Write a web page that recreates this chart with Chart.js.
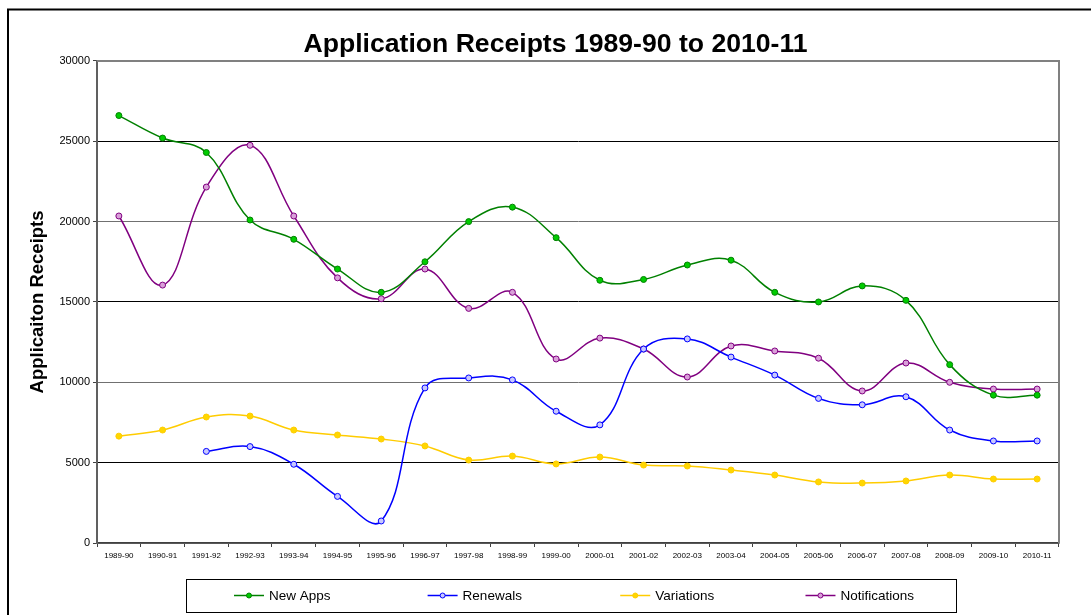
<!DOCTYPE html>
<html>
<head>
<meta charset="utf-8">
<script src="https://cdn.jsdelivr.net/npm/chart.js@4.4.1/dist/chart.umd.min.js"></script>
<style>
  html, body { margin: 0; padding: 0; background: #fff; }
  canvas { display: block; }
</style>
</head>
<body>
<canvas id="receiptsChart" width="1091" height="615"></canvas>
<script>
// Financial years on the x axis
const years = ["1989-90", "1990-91", "1991-92", "1992-93", "1993-94", "1994-95", "1995-96",
    "1996-97", "1997-98", "1998-99", "1999-00", "2000-01", "2001-02", "2002-03", "2003-04",
    "2004-05", "2005-06", "2006-07", "2007-08", "2008-09", "2009-10", "2010-11"];

// Series values
const newApps = [26600, 25200, 24300, 20100, 18900, 17050, 15600, 17500, 20000, 20900, 19000,
    16350, 16400, 17300, 17600, 15600, 15000, 16000, 15100, 11100, 9200, 9200];
const renewals = [null, null, 5700, 6000, 4900, 2900, 1370, 9650, 10270, 10150, 8200,
    7350, 12070, 12700, 11570, 10450, 9000, 8600, 9100, 7030, 6350, 6350];
const variations = [6650, 7030, 7840, 7900, 7030, 6720, 6470, 6040, 5160, 5410, 4920,
    5350, 4850, 4790, 4540, 4230, 3800, 3730, 3860, 4230, 3980, 3980];
const notifications = [20350, 16050, 22150, 24750, 20350, 16500, 15200, 17050, 14600, 15600, 11450,
    12750, 12070, 10330, 12260, 11950, 11500, 9460, 11200, 10000, 9580, 9580];

// y axis ticks
const yTicks = [0, 5000, 10000, 15000, 20000, 25000, 30000];

const seriesNames = ["New Apps", "Renewals", "Variations", "Notifications"];
const lineColors = ["#008000", "#0000ff", "#ffcc00", "#800080"];
const pointFills = ["#00cc00", "#c8c8ff", "#ffd700", "#d9a0d9"];

function makeDataset(i, values) {
    return {
        label: seriesNames[i],
        data: values,
        borderColor: lineColors[i],
        backgroundColor: pointFills[i],
        borderWidth: 1.5,
        tension: 0.4,
        fill: false,
        pointRadius: 3,
        pointBorderWidth: 1,
        pointBorderColor: lineColors[i],
        pointBackgroundColor: pointFills[i]
    };
}

// outer frame (top + left black lines) and the grey plot border
const framePlugin = {
    id: 'frame',
    afterLayout(chart) {
        // title is centred a bit left of the plot area in the original
        const t = chart.titleBlock;
        if (t) { t.left = 20; t.right = chart.width; }
    },
    beforeDraw(chart) {
        const ctx = chart.ctx;
        ctx.save();
        ctx.strokeStyle = '#000';
        ctx.lineWidth = 2;
        ctx.beginPath();
        ctx.moveTo(8, chart.height);
        ctx.lineTo(8, 9.5);
        ctx.lineTo(chart.width, 9.5);
        ctx.stroke();
        ctx.restore();
    },
    beforeDatasetsDraw(chart) {
        const {ctx, chartArea: a} = chart;
        ctx.save();
        ctx.strokeStyle = '#808080';
        ctx.lineWidth = 2;
        ctx.beginPath();
        ctx.moveTo(a.left, a.top);
        ctx.lineTo(a.right, a.top);
        ctx.lineTo(a.right, a.bottom);
        ctx.stroke();
        ctx.restore();
    }
};

// boxed legend below the x axis
const boxLegend = {
    id: 'boxLegend',
    afterDraw(chart) {
        const {ctx, chartArea: a} = chart;
        const left = a.left + 89, right = a.right - 103;
        const top = a.bottom + 36, height = 33;
        const slot = (right - left) / chart.data.datasets.length;
        const midY = top + height / 2;

        ctx.save();
        ctx.strokeStyle = '#000';
        ctx.lineWidth = 1;
        ctx.strokeRect(left + 0.5, top + 0.5, right - left, height);

        ctx.font = '13.5px "Liberation Sans", Arial, sans-serif';
        ctx.textBaseline = 'middle';
        ctx.textAlign = 'left';
        chart.data.datasets.forEach((ds, i) => {
            const textW = ctx.measureText(ds.label).width;
            const total = 30 + 5 + textW;
            const x0 = left + slot * (i + 0.5) - total / 2;
            ctx.strokeStyle = ds.borderColor;
            ctx.lineWidth = 1.5;
            ctx.beginPath();
            ctx.moveTo(x0, midY);
            ctx.lineTo(x0 + 30, midY);
            ctx.stroke();
            ctx.beginPath();
            ctx.arc(x0 + 15, midY, 2.5, 0, Math.PI * 2);
            ctx.fillStyle = ds.pointBackgroundColor;
            ctx.fill();
            ctx.lineWidth = 1;
            ctx.stroke();
            ctx.fillStyle = '#000';
            ctx.fillText(ds.label, x0 + 35, midY + 1);
        });
        ctx.restore();
    }
};

const ctx = document.getElementById('receiptsChart').getContext('2d');
new Chart(ctx, {
    type: 'line',
    data: {
        labels: years,
        datasets: [
            makeDataset(0, newApps),
            makeDataset(1, renewals),
            makeDataset(2, variations),
            makeDataset(3, notifications)
        ]
    },
    options: {
        responsive: false,
        animation: false,
        layout: { padding: { top: 10, right: 32, bottom: 0, left: 0 } },
        plugins: {
            legend: { display: false },
            tooltip: { enabled: false },
            title: {
                display: true,
                text: 'Application Receipts 1989-90 to 2010-11',
                color: '#000',
                font: { family: '"Liberation Sans", Arial, sans-serif', size: 26.6, weight: 'bold' },
                padding: { top: 19, bottom: 0 }
            }
        },
        scales: {
            x: {
                offset: true,
                afterFit(scale) { scale.height = 72; },
                border: { color: '#404040', width: 1.5 },
                grid: {
                    display: true,
                    offset: true,
                    drawOnChartArea: false,
                    tickLength: 4,
                    color: '#404040'
                },
                ticks: {
                    autoSkip: false,
                    maxRotation: 0,
                    padding: 4,
                    color: '#000',
                    font: { family: '"Liberation Sans", Arial, sans-serif', size: 8 }
                }
            },
            y: {
                min: yTicks[0],
                max: yTicks[yTicks.length - 1],
                afterFit(scale) { scale.width = 97; },
                border: { color: '#606060', width: 2 },
                grid: {
                    tickLength: 4,
                    lineWidth: 1,
                    color: c => (c.tick && (c.tick.value / 5000) % 2 === 1) ? '#000' : '#707070',
                    tickColor: '#404040'
                },
                ticks: {
                    stepSize: yTicks[1] - yTicks[0],
                    padding: 3,
                    color: '#000',
                    font: { family: '"Liberation Sans", Arial, sans-serif', size: 11 },
                    callback: v => String(v)
                },
                title: {
                    display: true,
                    text: 'Applicaiton Receipts',
                    color: '#000',
                    font: { family: '"Liberation Sans", Arial, sans-serif', size: 18.5, weight: 'bold' },
                    padding: { top: 27, bottom: 0 }
                }
            }
        }
    },
    plugins: [framePlugin, boxLegend]
});
</script>
</body>
</html>
